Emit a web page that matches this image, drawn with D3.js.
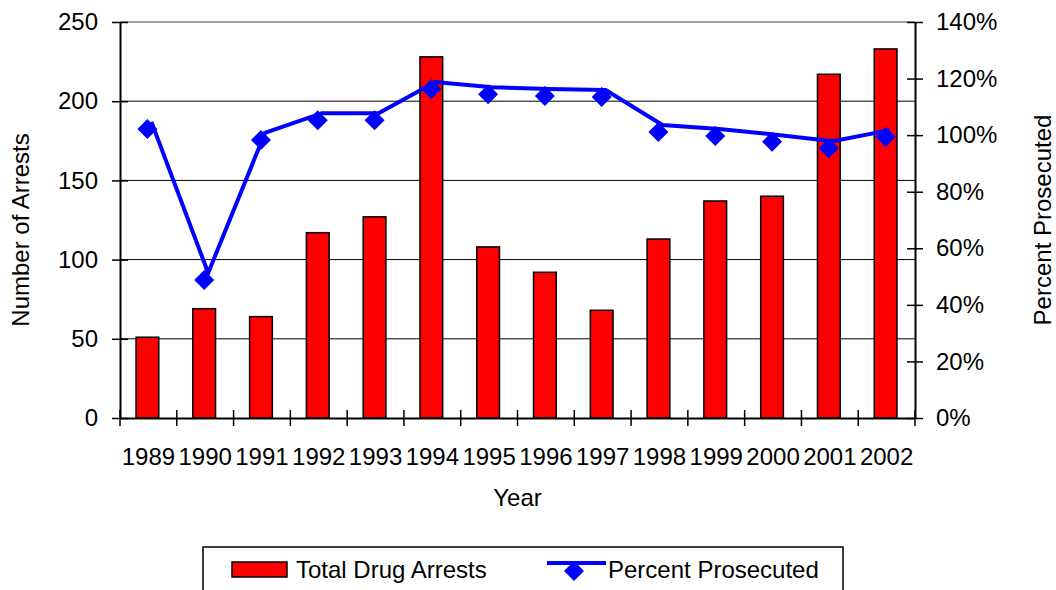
<!DOCTYPE html>
<html>
<head>
<meta charset="utf-8">
<script src="https://cdn.jsdelivr.net/npm/d3@7"></script>
<style>
  body { margin: 0; background: #fff; }
  svg { display: block; font-family: "Liberation Sans", Arial, sans-serif; }
</style>
</head>
<body>
<div id="chart"></div>
<script>
const years = ["1989", "1990", "1991", "1992", "1993", "1994", "1995", "1996", "1997", "1998", "1999", "2000", "2001", "2002"];
const arrests = [51, 69, 64, 117, 127, 228, 108, 92, 68, 113, 137, 140, 217, 233];
const prosecuted = [1.022, 0.488, 0.983, 1.053, 1.053, 1.163, 1.145, 1.138, 1.135, 1.011, 0.997, 0.977, 0.954, 0.993];
const leftTicks = [0, 50, 100, 150, 200, 250];
const rightTicks = [0, 0.2, 0.4, 0.6, 0.8, 1.0, 1.2, 1.4];

const width = 1056, height = 590;
const plotLeft = 120, plotRight = 915, plotTop = 22, plotBottom = 418;
const fontSize = "24px";

const svg = d3.select("#chart").append("svg")
    .attr("width", width)
    .attr("height", height);

const x = d3.scaleBand().domain(years).range([plotLeft, plotRight]);
const yLeft = d3.scaleLinear().domain([0, 250]).range([plotBottom, plotTop]);
const yRight = d3.scaleLinear().domain([0, 1.4]).range([plotBottom, plotTop]);

// gridlines
svg.selectAll(".grid")
    .data(leftTicks.slice(1))
    .enter().append("line")
    .attr("x1", plotLeft).attr("x2", plotRight)
    .attr("y1", d => yLeft(d)).attr("y2", d => yLeft(d))
    .attr("stroke", d => d === 250 ? "#808080" : "#000")
    .attr("stroke-width", d => d === 250 ? 1.5 : 1);

// bars
const barW = x.bandwidth() * 0.4;
svg.selectAll(".bar")
    .data(arrests)
    .enter().append("rect")
    .attr("x", (d, i) => x(years[i]) + (x.bandwidth() - barW) / 2 - 1)
    .attr("y", d => yLeft(d))
    .attr("width", barW)
    .attr("height", d => plotBottom - yLeft(d))
    .attr("fill", "#ff0000")
    .attr("stroke", "#000")
    .attr("stroke-width", 1.5);

// left axis
const axisL = svg.append("g")
    .attr("transform", "translate(" + plotLeft + ",0)")
    .call(d3.axisLeft(yLeft).tickValues(leftTicks).tickSize(8).tickSizeOuter(0).tickPadding(14));
axisL.select(".domain").attr("stroke-width", 2);
axisL.selectAll(".tick line").attr("x1", 8).attr("x2", -8).attr("stroke-width", 1.5);
axisL.selectAll("text").style("font-size", fontSize).attr("fill", "#000");

// right axis
const axisR = svg.append("g")
    .attr("transform", "translate(" + plotRight + ",0)")
    .call(d3.axisRight(yRight).tickValues(rightTicks).tickFormat(d3.format(".0%")).tickSize(8).tickSizeOuter(0).tickPadding(13));
axisR.select(".domain").attr("stroke-width", 2);
axisR.selectAll(".tick line").attr("x1", -8).attr("x2", 8).attr("stroke-width", 1.5);
axisR.selectAll("text").style("font-size", fontSize).attr("fill", "#000");

// bottom axis: labels at centers, ticks at category boundaries
const axisB = svg.append("g")
    .attr("transform", "translate(0," + plotBottom + ")")
    .call(d3.axisBottom(x).tickSize(0).tickPadding(30));
axisB.select(".domain").attr("stroke-width", 2);
axisB.selectAll("text").style("font-size", fontSize).attr("fill", "#000");

const bounds = years.map(d => x(d)).concat([plotRight]);
svg.selectAll(".xtick")
    .data(bounds)
    .enter().append("line")
    .attr("x1", d => d).attr("x2", d => d)
    .attr("y1", plotBottom - 8).attr("y2", plotBottom + 8)
    .attr("stroke", "#000")
    .attr("stroke-width", 1.5);

// percent line (drawn slightly offset from its markers, as in the original)
const line = d3.line()
    .x((d, i) => x(years[i]) + x.bandwidth() / 2)
    .y(d => yRight(d));

svg.append("path")
    .datum(prosecuted)
    .attr("d", line)
    .attr("transform", "translate(3,-7)")
    .attr("fill", "none")
    .attr("stroke", "#0000ff")
    .attr("stroke-width", 4);

const diamond = d3.symbol().type(d3.symbolSquare).size(200);
svg.selectAll(".marker")
    .data(prosecuted)
    .enter().append("path")
    .attr("d", diamond)
    .attr("transform", (d, i) => "translate(" + (x(years[i]) + x.bandwidth() / 2 - 1) + "," + yRight(d) + ") rotate(45)")
    .attr("fill", "#0000ff");

// axis titles
svg.append("text")
    .attr("transform", "translate(29,230) rotate(-90)")
    .style("text-anchor", "middle")
    .style("font-size", fontSize)
    .text("Number of Arrests");

svg.append("text")
    .attr("transform", "translate(1051,220) rotate(-90)")
    .style("text-anchor", "middle")
    .style("font-size", fontSize)
    .text("Percent Prosecuted");

svg.append("text")
    .attr("x", (plotLeft + plotRight) / 2)
    .attr("y", 506)
    .style("text-anchor", "middle")
    .style("font-size", fontSize)
    .text("Year");

// legend
const legend = svg.append("g");
legend.append("rect")
    .attr("x", 203).attr("y", 547)
    .attr("width", 640).attr("height", 60)
    .attr("fill", "#fff")
    .attr("stroke", "#000")
    .attr("stroke-width", 1.5);

legend.append("rect")
    .attr("x", 232).attr("y", 562)
    .attr("width", 55).attr("height", 15)
    .attr("fill", "#ff0000")
    .attr("stroke", "#000")
    .attr("stroke-width", 1.5);

legend.append("text")
    .attr("x", 296).attr("y", 578)
    .style("font-size", fontSize)
    .text("Total Drug Arrests");

legend.append("line")
    .attr("x1", 547).attr("x2", 606)
    .attr("y1", 563).attr("y2", 563)
    .attr("stroke", "#0000ff")
    .attr("stroke-width", 4);

legend.append("path")
    .attr("d", diamond)
    .attr("transform", "translate(574,571) rotate(45)")
    .attr("fill", "#0000ff");

legend.append("text")
    .attr("x", 608).attr("y", 578)
    .style("font-size", fontSize)
    .text("Percent Prosecuted");
</script>
</body>
</html>
